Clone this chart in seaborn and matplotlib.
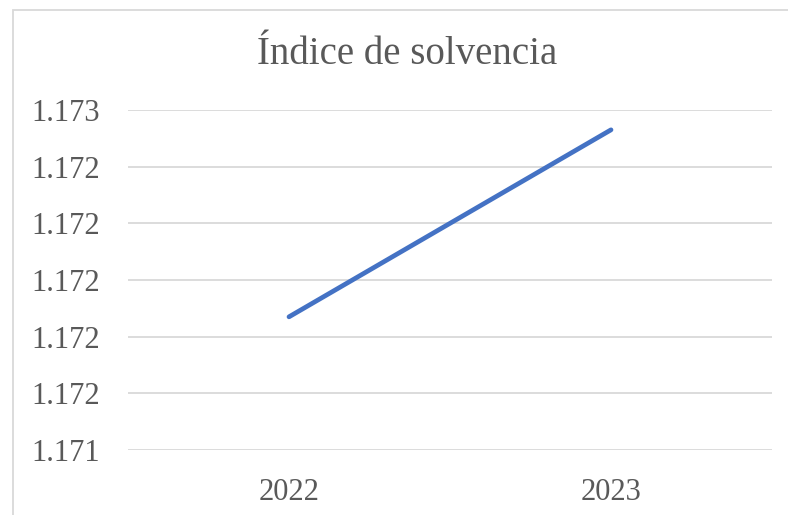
import matplotlib
matplotlib.use("Agg")
import matplotlib.pyplot as plt
import seaborn as sns
import pandas as pd
from matplotlib.ticker import FormatStrFormatter, FixedLocator
from matplotlib.patches import Rectangle

years = ["2022", "2023"]
values = [1.17187, 1.17253]
y_ticks = [1.1714, 1.1716, 1.1718, 1.1720, 1.1722, 1.1724, 1.1726]
title = "Índice de solvencia"

sns.set_theme(style="white")
plt.rcParams["font.family"] = ["Liberation Serif", "DejaVu Serif"]

df = pd.DataFrame({"year": years, "value": values})

fig = plt.figure(figsize=(7.88, 5.15), dpi=100)
ax = fig.add_axes([128/788, 1-450/515, (772-128)/788, (450-110)/515])

sns.lineplot(data=df, x="year", y="value", ax=ax, color="#4472C4",
             linewidth=3.4, solid_capstyle="round", sort=False)

ax.set_xlim(-0.5, 1.5)
ax.set_ylim(y_ticks[0], y_ticks[-1])
ax.yaxis.set_major_locator(FixedLocator(y_ticks))
ax.yaxis.set_major_formatter(FormatStrFormatter("%.3f"))
ax.grid(axis="y", color="#D9D9D9", linewidth=1.3)
ax.grid(axis="x", visible=False)
for s in ax.spines.values():
    s.set_visible(False)
ax.tick_params(axis="y", length=0, pad=20, labelsize=22, labelcolor="#595959")
ax.tick_params(axis="x", length=0, pad=20, labelsize=22, labelcolor="#595959")
ax.set_xlabel("")
ax.set_ylabel("")

fig.text(407/788, 1-55/515, title, ha="center", va="center", fontsize=28, color="#595959")

fig.patches.append(Rectangle((13/788, -0.1), 1.2, (1-10/515)+0.1, transform=fig.transFigure,
                             fill=False, edgecolor="#D9D9D9", linewidth=1.3))

fig.savefig("out.png", dpi=100)
